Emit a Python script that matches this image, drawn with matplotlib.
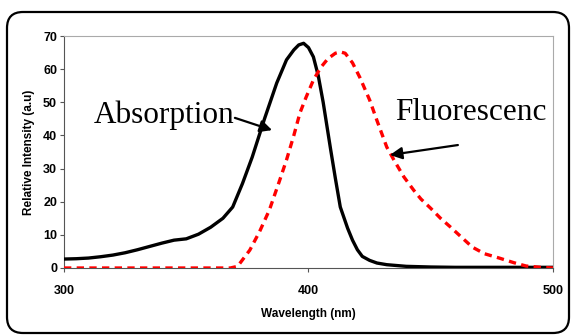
import numpy as np
import matplotlib.pyplot as plt
from matplotlib.patches import FancyBboxPatch

# absorption spectrum
abs_wl = [300, 305, 310, 315, 320, 325, 330, 335, 340, 345, 350, 355, 360, 365, 369,
          373, 377, 382, 387, 391, 394, 396, 398, 400, 402, 404, 406, 409, 411, 413,
          416, 418, 420, 422, 425, 428, 432, 440, 450, 460, 480, 500]
abs_int = [2.7, 2.8, 3.0, 3.4, 3.9, 4.6, 5.5, 6.5, 7.5, 8.4, 8.8, 10.2, 12.3, 15.0, 18.4,
           25.5, 33.5, 45.0, 55.8, 62.8, 65.8, 67.3, 67.8, 66.5, 63.7, 58.0, 50.0, 36.0, 27.0, 18.4,
           12.0, 8.4, 5.5, 3.5, 2.3, 1.5, 1.0, 0.5, 0.3, 0.2, 0.2, 0.2]

# fluorescence spectrum
fl_wl = [300, 320, 340, 360, 368, 371, 376, 380, 384, 388, 391, 394, 396.5, 399, 402,
         405, 408, 411, 413, 415, 418, 421, 425, 428, 432, 435, 439, 443, 446, 450,
         454, 458, 463, 467, 472, 478, 484, 489, 495, 500]
fl_int = [0, 0, 0, 0, 0, 0.5, 5.4, 11.0, 17.5, 26.0, 32.6, 40.0, 46.8, 51.5, 56.7,
          60.5, 63.2, 64.8, 65.2, 64.8, 61.9, 57.5, 50.7, 44.5, 36.5, 32.5, 27.5, 23.5, 20.8, 18.0,
          15.0, 12.4, 9.0, 6.3, 4.3, 3.0, 1.6, 0.6, 0.2, 0.0]

xticks = [300, 400, 500]
yticks = [0, 10, 20, 30, 40, 50, 60, 70]

fig = plt.figure(figsize=(5.72, 3.36), dpi=100)
ax = fig.add_axes([64/572, 1-268/336, (553-64)/572, (268-36)/336])

# rounded frame around the whole chart
frame = FancyBboxPatch((7/572, 3/336), (569-7)/572, (324-3)/336,
                       boxstyle="round,pad=0,rounding_size=0.028",
                       transform=fig.transFigure, fill=False, lw=1.6, ec='black',
                       mutation_aspect=572/336)
fig.patches.append(frame)

ax.plot(abs_wl, abs_int, color='black', lw=2.4, zorder=3)
ax.plot(fl_wl, fl_int, color='red', lw=2.4, ls=(0, (2.2, 1.6)), zorder=3)

ax.set_xlim(300, 500)
ax.set_ylim(0, 70)
ax.set_xticks(xticks)
ax.set_yticks(yticks)
for lab in ax.get_xticklabels() + ax.get_yticklabels():
    lab.set_fontweight('bold')
    lab.set_fontfamily('Liberation Sans')
ax.tick_params(axis='x', labelsize=9, length=3, width=0.8, pad=9, color='#555555')
ax.tick_params(axis='y', labelsize=9, length=3, width=0.8, pad=2, color='#555555')

ax.spines['top'].set_color('#aaaaaa')
ax.spines['right'].set_color('#aaaaaa')
ax.spines['left'].set_color('#555555')
ax.spines['bottom'].set_color('#555555')

ax.set_xlabel('Wavelength (nm)', fontsize=8.5, fontweight='bold',
              family='Liberation Sans', labelpad=8)
ax.set_ylabel('Relative Intensity (a.u)', fontsize=8.5, fontweight='bold',
              family='Liberation Sans', labelpad=6)

ax.text(312, 46.0, 'Absorption', fontsize=22.5, family='Liberation Serif',
        ha='left', va='center')
ax.text(435.4, 47.0, 'Fluorescenc', fontsize=22.5, family='Liberation Serif',
        ha='left', va='center')

ax.annotate('', xy=(385.1, 41.6), xytext=(369.9, 45.3),
            arrowprops=dict(arrowstyle='-|>', color='black', lw=1.6,
                            mutation_scale=18, shrinkA=0, shrinkB=0))
ax.annotate('', xy=(433.3, 34.1), xytext=(461.1, 37.1),
            arrowprops=dict(arrowstyle='-|>', color='black', lw=1.6,
                            mutation_scale=18, shrinkA=0, shrinkB=0))

fig.savefig('out.png', dpi=100)
